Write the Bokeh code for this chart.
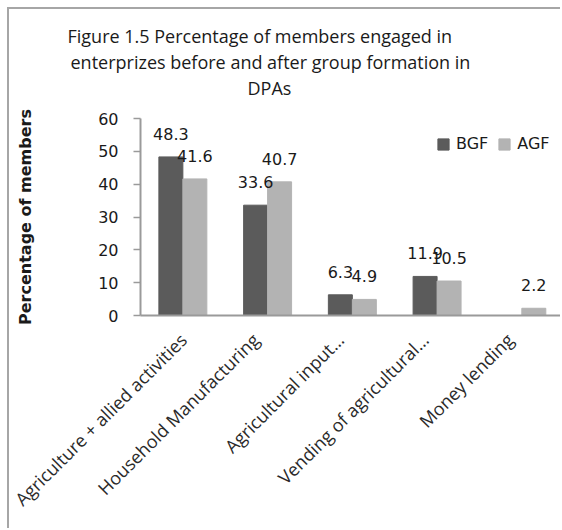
import math
import numpy as np
from bokeh.plotting import figure
from bokeh.models import (Range1d, FixedTicker, Legend, LegendItem, LabelSet,
                          ColumnDataSource, Title)
from bokeh.core.properties import value
from bokeh.embed import file_html
from bokeh.resources import INLINE

# ---------------- data ----------------
categories = ["Agriculture + allied activities", "Household Manufacturing",
              "Agricultural input\u2026", "Vending of agricultural\u2026", "Money lending"]
bgf = [48.3, 33.6, 6.3, 11.9, float("nan")]
agf = [41.6, 40.7, 4.9, 10.5, 2.2]
series_names = ["BGF", "AGF"]
y_ticks = [0, 10, 20, 30, 40, 50, 60]
title_lines = ["Figure 1.5 Percentage of  members engaged in",
               "enterprizes before and   after group formation in",
               "DPAs"]
y_label = "Percentage of members"

# ---------------- style ----------------
C_BGF = "#5b5b5b"
C_AGF = "#b3b3b3"
AXIS_C = "#9a9a9a"
TXT_C = "#1a1a1a"
BAR_W = 0.283
LABEL_SHIFT = -0.14   # category labels sit a little left of the group centre

centers = np.arange(len(categories)) + 0.5
x_bgf = centers - BAR_W / 2
x_agf = centers + BAR_W / 2
label_pos = centers + LABEL_SHIFT

p = figure(width=553, height=521, x_range=Range1d(0, 4.98), y_range=Range1d(0, 60),
           output_backend="svg", toolbar_location=None,
           min_border_left=131, min_border_right=0, min_border_top=109, min_border_bottom=215)
p.margin = (7, 0, 0, 7)
p.styles = {"border-left": "2px solid #a6a6a6", "border-top": "2px solid #a6a6a6"}
p.outline_line_color = None
p.xgrid.visible = False
p.ygrid.visible = False
p.background_fill_color = "white"
p.border_fill_color = "white"

src_b = ColumnDataSource(dict(x=x_bgf, top=bgf))
src_a = ColumnDataSource(dict(x=x_agf, top=agf))
rb = p.vbar(x="x", top="top", width=BAR_W, source=src_b, fill_color=C_BGF, line_color=C_BGF)
ra = p.vbar(x="x", top="top", width=BAR_W, source=src_a, fill_color=C_AGF, line_color=C_AGF)

# data labels
def lab_src(xs, vals):
    xx, yy, tt = [], [], []
    for xv, v in zip(xs, vals):
        if v == v:
            xx.append(xv); yy.append(v); tt.append(f"{v:g}")
    return ColumnDataSource(dict(x=xx, y=yy, t=tt))

for s in (lab_src(x_bgf, bgf), lab_src(x_agf, agf)):
    p.add_layout(LabelSet(x="x", y="y", text="t", source=s, text_align="center",
                          text_baseline="middle", y_offset=23,
                          text_font=value("DejaVu Sans"), text_font_size=value("16px"),
                          text_color=TXT_C))

# y axis
ya = p.yaxis[0]
ya.ticker = FixedTicker(ticks=y_ticks)
ya.axis_line_color = AXIS_C
ya.axis_line_width = 2
ya.major_tick_line_color = AXIS_C
ya.major_tick_line_width = 1.5
ya.major_tick_out = 7
ya.major_tick_in = 0
ya.minor_tick_line_color = None
ya.major_label_text_font = "DejaVu Sans"
ya.major_label_text_font_size = "16px"
ya.major_label_text_color = TXT_C
ya.major_label_standoff = 15
ya.axis_label = y_label
ya.axis_label_text_font = "DejaVu Sans"
ya.axis_label_text_font_style = "bold"
ya.axis_label_text_font_size = "16px"
ya.axis_label_text_color = TXT_C
ya.axis_label_standoff = 60

# x axis
xa = p.xaxis[0]
xa.ticker = FixedTicker(ticks=list(label_pos))
xa.major_label_overrides = {float(c): n for c, n in zip(label_pos, categories)}
xa.major_label_orientation = math.pi / 4
xa.axis_line_color = AXIS_C
xa.axis_line_width = 2
xa.major_tick_line_color = None
xa.minor_tick_line_color = None
xa.major_label_text_font = "Open Sans"
xa.major_label_text_font_size = "18px"
xa.major_label_text_color = "#2a2a2a"
xa.major_label_standoff = 15

# legend
legend = Legend(items=[LegendItem(label=series_names[0], renderers=[rb]),
                       LegendItem(label=series_names[1], renderers=[ra])],
                orientation="horizontal", location=(296, 162),
                border_line_color=None, background_fill_alpha=0,
                padding=0, margin=0, spacing=9, label_standoff=6,
                glyph_width=14, glyph_height=14, label_height=14,
                label_text_font="DejaVu Sans", label_text_font_size="16px",
                label_text_color=TXT_C)
p.add_layout(legend, "center")

# title lines: p.title is the outermost; added titles stack outward from the frame
def style_title(t, off, standoff):
    t.align = "left"
    t.offset = off
    t.standoff = standoff
    t.text_font = "Open Sans"
    t.text_font_size = "18px"
    t.text_font_style = "normal"
    t.text_color = TXT_C

p.title.text = title_lines[0]
style_title(p.title, -73, 0)
t3 = Title(text=title_lines[2])
style_title(t3, 107, 1)
t3.padding = {"top": 0, "right": 0, "bottom": 18, "left": 0}
p.add_layout(t3, "above")
t2 = Title(text=title_lines[1])
style_title(t2, -70, 0)
p.add_layout(t2, "above")

open("out.html", "w").write(file_html(p, INLINE))
